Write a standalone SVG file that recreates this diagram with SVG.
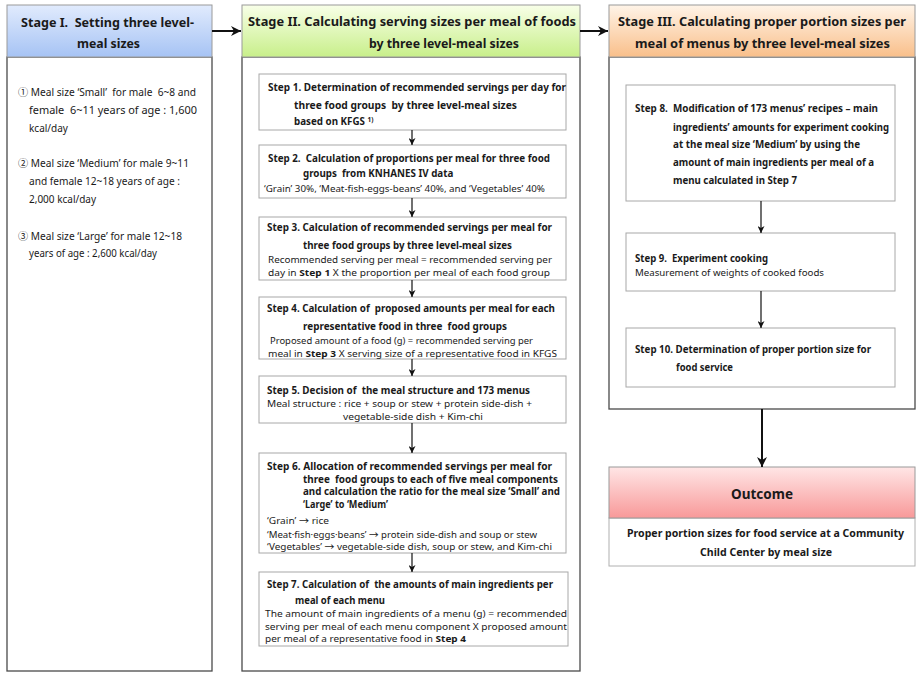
<svg xmlns="http://www.w3.org/2000/svg" width="922" height="677" viewBox="0 0 922 677">
<defs>
<linearGradient id="gBlue" x1="0" y1="0" x2="0" y2="1"><stop offset="0" stop-color="#e1ebfd"/><stop offset="1" stop-color="#a6c3f4"/></linearGradient>
<linearGradient id="gGreen" x1="0" y1="0" x2="0" y2="1"><stop offset="0" stop-color="#f8ffe8"/><stop offset="1" stop-color="#c8ef8a"/></linearGradient>
<linearGradient id="gOrange" x1="0" y1="0" x2="0" y2="1"><stop offset="0" stop-color="#fff4e8"/><stop offset="1" stop-color="#f9bf8a"/></linearGradient>
<linearGradient id="gPink" x1="0" y1="0" x2="0" y2="1"><stop offset="0" stop-color="#ffe6e6"/><stop offset="1" stop-color="#f89999"/></linearGradient>
<marker id="ah" viewBox="0 0 10 10" refX="10" refY="5" markerWidth="7" markerHeight="7" markerUnits="userSpaceOnUse" orient="auto"><path d="M0,0 L10,5 L0,10 L3,5 z" fill="#111"/></marker>
<marker id="ahB" viewBox="0 0 10 10" refX="10" refY="5" markerWidth="10" markerHeight="10" markerUnits="userSpaceOnUse" orient="auto"><path d="M0,0 L10,5 L0,10 L3,5 z" fill="#111"/></marker>
</defs>
<style>
text{font-family:"Noto Sans","Open Sans","Noto Sans CJK KR",sans-serif;fill:#1a1a1a;white-space:pre;}
.hd{font-size:12.5px;font-weight:bold;}
.b{font-size:9.8px;font-weight:bold;}
.r{font-size:9.5px;}
.s1{font-size:10px;}
.hdr{stroke:#9a9a9a;stroke-width:1;}
.body{fill:#fff;stroke:#4a4a4a;stroke-width:1.3;}
.step{fill:#fff;stroke:#a8a8a8;stroke-width:1;}
.con{stroke:#111;stroke-width:1.2;fill:none;}
.conB{stroke:#111;stroke-width:2;fill:none;}
</style>
<rect width="922" height="677" fill="#fff"/>

<g id="stage1">
<rect class="body" x="7" y="57" width="205" height="614"/>
<rect class="hdr" x="7" y="5" width="205" height="52" fill="url(#gBlue)"/>
<text class="hd" x="21" y="27" textLength="173" lengthAdjust="spacingAndGlyphs">Stage I.  Setting three level-</text>
<text class="hd" x="77" y="48" textLength="63" lengthAdjust="spacingAndGlyphs">meal sizes</text>
<text class="s1" x="18" y="96" textLength="178" lengthAdjust="spacingAndGlyphs">① Meal size ‘Small’  for male  6~8 and</text>
<text class="s1" x="29" y="114" textLength="168" lengthAdjust="spacingAndGlyphs">female  6~11 years of age : 1,600</text>
<text class="s1" x="29" y="132">kcal/day</text>
<text class="s1" x="18" y="167" textLength="171" lengthAdjust="spacingAndGlyphs">② Meal size ‘Medium’ for male 9~11</text>
<text class="s1" x="29" y="185" textLength="151" lengthAdjust="spacingAndGlyphs">and female 12~18 years of age :</text>
<text class="s1" x="29" y="203">2,000 kcal/day</text>
<text class="s1" x="18" y="240" textLength="164" lengthAdjust="spacingAndGlyphs">③ Meal size ‘Large’ for male 12~18</text>
<text class="s1" x="29" y="257" textLength="128" lengthAdjust="spacingAndGlyphs">years of age : 2,600 kcal/day</text>
</g>

<g id="stage2">
<rect class="body" x="242" y="57" width="338" height="614"/>
<rect class="hdr" x="242" y="5" width="338" height="52" fill="url(#gGreen)"/>
<text class="hd" x="248" y="26" textLength="328" lengthAdjust="spacingAndGlyphs">Stage II. Calculating serving sizes per meal of foods</text>
<text class="hd" x="369" y="48" textLength="150" lengthAdjust="spacingAndGlyphs">by three level-meal sizes</text>
</g>

<g id="step1">
<rect class="step" x="259" y="74" width="307" height="56"/>
<text class="b" x="268" y="90.5" textLength="298" lengthAdjust="spacingAndGlyphs">Step 1. Determination of recommended servings per day for</text>
<text class="b" x="294" y="108.5" textLength="223" lengthAdjust="spacingAndGlyphs">three food groups  by three level-meal sizes</text>
<text class="b" x="294" y="124.5">based on KFGS <tspan font-size="6.5" dy="-3">1)</tspan></text>
</g>

<g id="step2">
<rect class="step" x="259" y="145" width="307" height="53"/>
<text class="b" x="268" y="161.5" textLength="282" lengthAdjust="spacingAndGlyphs">Step 2.  Calculation of proportions per meal for three food</text>
<text class="b" x="303" y="177">groups  from KNHANES IV data</text>
<text class="r" x="264" y="191.5" textLength="281" lengthAdjust="spacingAndGlyphs">‘Grain’ 30%, ‘Meat-fish-eggs-beans’ 40%, and ‘Vegetables’ 40%</text>
</g>

<g id="step3">
<rect class="step" x="259" y="217" width="307" height="63"/>
<text class="b" x="267" y="230.5" textLength="285" lengthAdjust="spacingAndGlyphs">Step 3. Calculation of recommended servings per meal for</text>
<text class="b" x="303" y="249" textLength="209" lengthAdjust="spacingAndGlyphs">three food groups by three level-meal sizes</text>
<text class="r" x="268" y="263" textLength="284" lengthAdjust="spacingAndGlyphs">Recommended serving per meal = recommended serving per</text>
<text class="r" x="268" y="276" textLength="282" lengthAdjust="spacingAndGlyphs">day in <tspan font-weight="bold">Step 1</tspan> X the proportion per meal of each food group</text>
</g>

<g id="step4">
<rect class="step" x="259" y="297" width="307" height="62"/>
<text class="b" x="267" y="312" textLength="288" lengthAdjust="spacingAndGlyphs">Step 4. Calculation of  proposed amounts per meal for each</text>
<text class="b" x="303" y="330" textLength="204" lengthAdjust="spacingAndGlyphs">representative food in three  food groups</text>
<text class="r" x="270" y="344" textLength="263" lengthAdjust="spacingAndGlyphs">Proposed amount of a food (g) = recommended serving per</text>
<text class="r" x="268" y="356.5" textLength="289" lengthAdjust="spacingAndGlyphs">meal in <tspan font-weight="bold">Step 3</tspan> X serving size of a representative food in KFGS</text>
</g>

<g id="step5">
<rect class="step" x="259" y="376" width="307" height="47"/>
<text class="b" x="267" y="393.5" textLength="263" lengthAdjust="spacingAndGlyphs">Step 5. Decision of  the meal structure and 173 menus</text>
<text class="r" x="267" y="407" textLength="265" lengthAdjust="spacingAndGlyphs">Meal structure : rice + soup or stew + protein side-dish +</text>
<text class="r" x="343" y="420" textLength="140" lengthAdjust="spacingAndGlyphs">vegetable-side dish + Kim-chi</text>
</g>

<g id="step6">
<rect class="step" x="259" y="453" width="307" height="100"/>
<text class="b" x="267" y="470" textLength="285" lengthAdjust="spacingAndGlyphs">Step 6. Allocation of recommended servings per meal for</text>
<text class="b" x="303" y="482.5" textLength="255" lengthAdjust="spacingAndGlyphs">three  food groups to each of five meal components</text>
<text class="b" x="303" y="495" textLength="257" lengthAdjust="spacingAndGlyphs">and calculation the ratio for the meal size ‘Small’ and</text>
<text class="b" x="303" y="507.5" textLength="85" lengthAdjust="spacingAndGlyphs">‘Large’ to ‘Medium’</text>
<text class="r" x="267" y="524" textLength="62" lengthAdjust="spacingAndGlyphs">‘Grain’ → rice</text>
<text class="r" x="267" y="538" textLength="270" lengthAdjust="spacingAndGlyphs">‘Meat·fish·eggs·beans’ → protein side-dish and soup or stew</text>
<text class="r" x="267" y="550" textLength="285" lengthAdjust="spacingAndGlyphs">‘Vegetables’ → vegetable-side dish, soup or stew, and Kim-chi</text>
</g>

<g id="step7">
<rect class="step" x="259" y="572" width="309" height="74"/>
<text class="b" x="267" y="588" textLength="286" lengthAdjust="spacingAndGlyphs">Step 7. Calculation of  the amounts of main ingredients per</text>
<text class="b" x="295" y="604" textLength="90" lengthAdjust="spacingAndGlyphs">meal of each menu</text>
<text class="r" x="265" y="617" textLength="302" lengthAdjust="spacingAndGlyphs">The amount of main ingredients of a menu (g) = recommended</text>
<text class="r" x="265" y="629.5" textLength="302" lengthAdjust="spacingAndGlyphs">serving per meal of each menu component X proposed amount</text>
<text class="r" x="265" y="642" textLength="201" lengthAdjust="spacingAndGlyphs">per meal of a representative food in <tspan font-weight="bold">Step 4</tspan></text>
</g>

<g id="stage3">
<rect class="body" x="609" y="57" width="306" height="352"/>
<rect class="hdr" x="609" y="5" width="306" height="52" fill="url(#gOrange)"/>
<text class="hd" x="618" y="26" textLength="288" lengthAdjust="spacingAndGlyphs">Stage III. Calculating proper portion sizes per</text>
<text class="hd" x="635" y="48" textLength="255" lengthAdjust="spacingAndGlyphs">meal of menus by three level-meal sizes</text>
</g>

<g id="step8">
<rect class="step" x="626" y="85" width="269" height="116"/>
<text class="b" x="635" y="111.5" textLength="243" lengthAdjust="spacingAndGlyphs">Step 8.  Modification of 173 menus’ recipes – main</text>
<text class="b" x="673" y="130.5" textLength="216" lengthAdjust="spacingAndGlyphs">ingredients’ amounts for experiment cooking</text>
<text class="b" x="673" y="147.5" textLength="187" lengthAdjust="spacingAndGlyphs">at the meal size ‘Medium’ by using the</text>
<text class="b" x="673" y="165.5" textLength="201" lengthAdjust="spacingAndGlyphs">amount of main ingredients per meal of a</text>
<text class="b" x="673" y="183.5" textLength="124" lengthAdjust="spacingAndGlyphs">menu calculated in Step 7</text>
</g>

<g id="step9">
<rect class="step" x="626" y="233" width="269" height="58"/>
<text class="b" x="635" y="261.5" textLength="133" lengthAdjust="spacingAndGlyphs">Step 9.  Experiment cooking</text>
<text class="r" x="635" y="275.5" textLength="189" lengthAdjust="spacingAndGlyphs">Measurement of weights of cooked foods</text>
</g>

<g id="step10">
<rect class="step" x="626" y="328" width="269" height="59"/>
<text class="b" x="635" y="352.5" textLength="236" lengthAdjust="spacingAndGlyphs">Step 10. Determination of proper portion size for</text>
<text class="b" x="676" y="370.5" textLength="57" lengthAdjust="spacingAndGlyphs">food service</text>
</g>

<g id="outcome">
<rect x="609" y="518" width="306" height="48" fill="#fff" stroke="#b0b0b0" stroke-width="1"/>
<rect class="hdr" x="609" y="467" width="306" height="51" fill="url(#gPink)"/>
<text x="762" y="498.5" text-anchor="middle" font-size="13.5" font-weight="bold">Outcome</text>
<text class="b" x="765.5" y="536.5" text-anchor="middle" textLength="277" lengthAdjust="spacingAndGlyphs">Proper portion sizes for food service at a Community</text>
<text class="b" x="766" y="556" text-anchor="middle" textLength="132" lengthAdjust="spacingAndGlyphs">Child Center by meal size</text>
</g>

<g id="connectors">
<line class="conB" x1="212" y1="31" x2="241" y2="31" marker-end="url(#ahB)"/>
<line class="conB" x1="580" y1="31" x2="608" y2="31" marker-end="url(#ahB)"/>
<line class="con" x1="412" y1="130" x2="412" y2="145" marker-end="url(#ah)"/>
<line class="con" x1="412" y1="198" x2="412" y2="217" marker-end="url(#ah)"/>
<line class="con" x1="412" y1="280" x2="412" y2="297" marker-end="url(#ah)"/>
<line class="con" x1="412" y1="359" x2="412" y2="376" marker-end="url(#ah)"/>
<line class="con" x1="412" y1="423" x2="412" y2="453" marker-end="url(#ah)"/>
<line class="con" x1="412" y1="553" x2="412" y2="572" marker-end="url(#ah)"/>
<line class="con" x1="761" y1="201" x2="761" y2="233" marker-end="url(#ah)"/>
<line class="con" x1="761" y1="291" x2="761" y2="328" marker-end="url(#ah)"/>
<line class="conB" x1="762" y1="409" x2="762" y2="467" marker-end="url(#ahB)"/>
</g>
</svg>
